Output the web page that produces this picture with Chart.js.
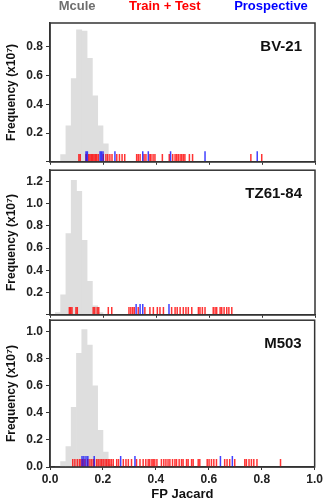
<!DOCTYPE html>
<html>
<head>
<meta charset="utf-8">
<script src="https://cdn.jsdelivr.net/npm/chart.js@4.4.0/dist/chart.umd.min.js"></script>
<style>
  body { margin: 0; background: #fff; }
  #wrap { position: relative; width: 325px; height: 502px; }
  canvas { position: absolute; left: 0; }
</style>
</head>
<body>
<div id="wrap">
  <canvas id="c1" width="325" height="172" style="top:0px"></canvas>
  <canvas id="c2" width="325" height="165" style="top:160px"></canvas>
  <canvas id="c3" width="325" height="192" style="top:310px"></canvas>
</div>
<script>
// histogram bins (FP Jacard), frequency in units of 1e7
const binCenters = [0.03, 0.05, 0.07, 0.09, 0.11, 0.13, 0.15, 0.17, 0.19, 0.21, 0.23];
const bv21Freq   = [0, 0.05, 0.25, 0.58, 0.92, 0.91, 0.72, 0.46, 0.25, 0.125, 0];
const tz6184Freq = [0.02, 0.18, 0.73, 1.21, 1.11, 0.67, 0.30, 0.08, 0.02, 0, 0];
const m503Freq   = [0, 0.04, 0.15, 0.44, 0.84, 1.015, 0.90, 0.60, 0.27, 0.11, 0.02];

// rug values
const bv21Train = [0.109, 0.114, 0.136, 0.146, 0.151, 0.156, 0.161, 0.166, 0.171, 0.176, 0.182,
  0.201, 0.211, 0.218, 0.226, 0.234, 0.252, 0.262, 0.272, 0.282, 0.327, 0.333, 0.340, 0.355,
  0.362, 0.377, 0.381, 0.389, 0.396, 0.424, 0.450, 0.463, 0.472, 0.478, 0.484, 0.491, 0.497,
  0.503, 0.509, 0.526, 0.538, 0.758, 0.799];
const bv21Prosp = [0.136, 0.141, 0.189, 0.194, 0.200, 0.245, 0.350, 0.371, 0.455, 0.585, 0.782];

const tz6184Train = [0.073, 0.078, 0.083, 0.098, 0.103, 0.163, 0.169, 0.178, 0.184, 0.220, 0.233,
  0.298, 0.305, 0.312, 0.318, 0.333, 0.358, 0.377, 0.390, 0.405, 0.415, 0.428, 0.459, 0.472,
  0.480, 0.491, 0.503, 0.513, 0.522, 0.535, 0.560, 0.566, 0.575, 0.585, 0.616, 0.623, 0.629,
  0.642, 0.648, 0.657, 0.667, 0.675, 0.686];
const tz6184Prosp = [0.325, 0.340, 0.350, 0.449];

const m503Train = [0.086, 0.094, 0.103, 0.111, 0.117, 0.124, 0.132, 0.143, 0.151, 0.158, 0.165,
  0.176, 0.182, 0.189, 0.195, 0.201, 0.208, 0.214, 0.220, 0.226, 0.232, 0.239, 0.252, 0.259,
  0.277, 0.287, 0.296, 0.308, 0.327, 0.340, 0.352, 0.362, 0.371, 0.377, 0.385, 0.390, 0.396,
  0.404, 0.421, 0.430, 0.438, 0.446, 0.453, 0.463, 0.472, 0.478, 0.488, 0.497, 0.503, 0.516,
  0.522, 0.535, 0.541, 0.560, 0.566, 0.594, 0.601, 0.610, 0.619, 0.629, 0.660, 0.669, 0.679,
  0.698, 0.736, 0.742, 0.752, 0.761, 0.770, 0.782, 0.871];
const m503Prosp = [0.121, 0.128, 0.136, 0.143, 0.167, 0.267, 0.321, 0.644, 0.689];

const seriesNames = ['Mcule', 'Train + Test', 'Prospective'];
const seriesColors = ['#6e6e6e', '#ff0000', '#0000ff'];

const FONT = '"Liberation Sans", Arial, sans-serif';
Chart.defaults.font.family = FONT;

// frame around plot area + panel name
const panelBox = {
  id: 'panelBox',
  afterDraw(chart, args, opts) {
    const {ctx, chartArea: a} = chart;
    ctx.save();
    ctx.strokeStyle = '#333';
    ctx.lineWidth = 1.5;
    ctx.strokeRect(a.left, a.top, a.right - a.left, a.bottom - a.top);
    ctx.font = 'bold 15px ' + FONT;
    ctx.fillStyle = '#111';
    ctx.textAlign = 'right';
    ctx.textBaseline = 'middle';
    ctx.fillText(opts.label, a.right - 13, a.top + 24);
    ctx.restore();
  }
};

function makePanel(id, name, freq, train, prosp, yMax, cfg) {
  new Chart(document.getElementById(id), {
    type: 'bar',
    data: {
      datasets: [
        {
          type: 'bar',
          label: seriesNames[0],
          data: binCenters.map((c, i) => ({x: c, y: freq[i]})),
          backgroundColor: '#dedede',
          barPercentage: 1,
          categoryPercentage: 1,
          order: 3
        },
        {
          type: 'scatter',
          label: seriesNames[1],
          data: train.map(v => ({x: v, y: 0.8})),
          yAxisID: 'yRug',
          pointStyle: 'line',
          pointRotation: 90,
          pointRadius: 4,
          pointBorderColor: 'rgba(255,0,0,0.8)',
          pointBorderWidth: 1.5,
          order: 2
        },
        {
          type: 'scatter',
          label: seriesNames[2],
          data: prosp.map(v => ({x: v, y: 1.1})),
          yAxisID: 'yRug',
          pointStyle: 'line',
          pointRotation: 90,
          pointRadius: 5.5,
          pointBorderColor: 'rgba(0,0,255,0.75)',
          pointBorderWidth: 1.5,
          order: 1
        }
      ]
    },
    options: {
      responsive: false,
      animation: false,
      events: [],
      layout: { padding: cfg.padding },
      scales: {
        x: {
          type: 'linear', min: 0, max: 1, offset: false,
          ticks: {
            stepSize: 0.2, display: cfg.xLabels, maxRotation: 0, padding: 2,
            callback: v => v.toFixed(1),
            font: { size: 12, weight: 'bold' }, color: '#222'
          },
          grid: { drawOnChartArea: false, tickLength: 3, color: '#333', offset: false },
          border: { color: '#333', width: 1.5 },
          title: {
            display: cfg.xLabels, text: 'FP Jacard', color: '#111',
            font: { size: 13, weight: 'bold' }, padding: { top: 0, bottom: 0 }
          },
          afterFit: s => { s.height = cfg.xHeight; }
        },
        y: {
          min: 0, max: yMax,
          ticks: {
            stepSize: 0.2, includeBounds: false, padding: 3,
            callback: v => (v === 0 && !cfg.xLabels) ? '' : v.toFixed(1),
            font: { size: 12, weight: 'bold' }, color: '#222'
          },
          grid: { drawOnChartArea: false, tickLength: 4, color: '#333' },
          border: { color: '#333', width: 1.5 },
          title: {
            display: true, text: 'Frequency (x10⁷)', color: '#111',
            font: { size: 12, weight: 'bold' }, padding: { top: cfg.titlePad, bottom: 0 }
          },
          afterFit: s => { s.width = cfg.yWidth; }
        },
        yRug: { axis: 'y', type: 'linear', display: false, min: 0, max: 30 }
      },
      plugins: {
        legend: {
          display: cfg.legend,
          position: 'top',
          labels: {
            boxWidth: 27, padding: 0,
            font: { size: 13, weight: 'bold' },
            generateLabels: chart => chart.data.datasets.map((d, i) => ({
              text: d.label, fontColor: seriesColors[i],
              fillStyle: 'rgba(0,0,0,0)', strokeStyle: 'rgba(0,0,0,0)',
              lineWidth: 0, hidden: false, datasetIndex: i
            }))
          }
        },
        tooltip: { enabled: false },
        panelBox: { label: name }
      }
    },
    plugins: [panelBox]
  });
}

makePanel('c1', 'BV-21', bv21Freq, bv21Train, bv21Prosp, 0.967,
  { padding: {left: 18, right: 10, top: 0, bottom: 0}, yWidth: 32, titlePad: -13.7, xHeight: 4, xLabels: false, legend: true });
makePanel('c2', 'TZ61-84', tz6184Freq, tz6184Train, tz6184Prosp, 1.30,
  { padding: {left: 0, right: 10, top: 8, bottom: 0}, yWidth: 50, titlePad: 4.3, xHeight: 8, xLabels: false, legend: false });
makePanel('c3', 'M503', m503Freq, m503Train, m503Prosp, 1.084,
  { padding: {left: 0, right: 10, top: 8, bottom: 0}, yWidth: 50, titlePad: 4.3, xHeight: 35, xLabels: true, legend: false });
</script>
</body>
</html>
